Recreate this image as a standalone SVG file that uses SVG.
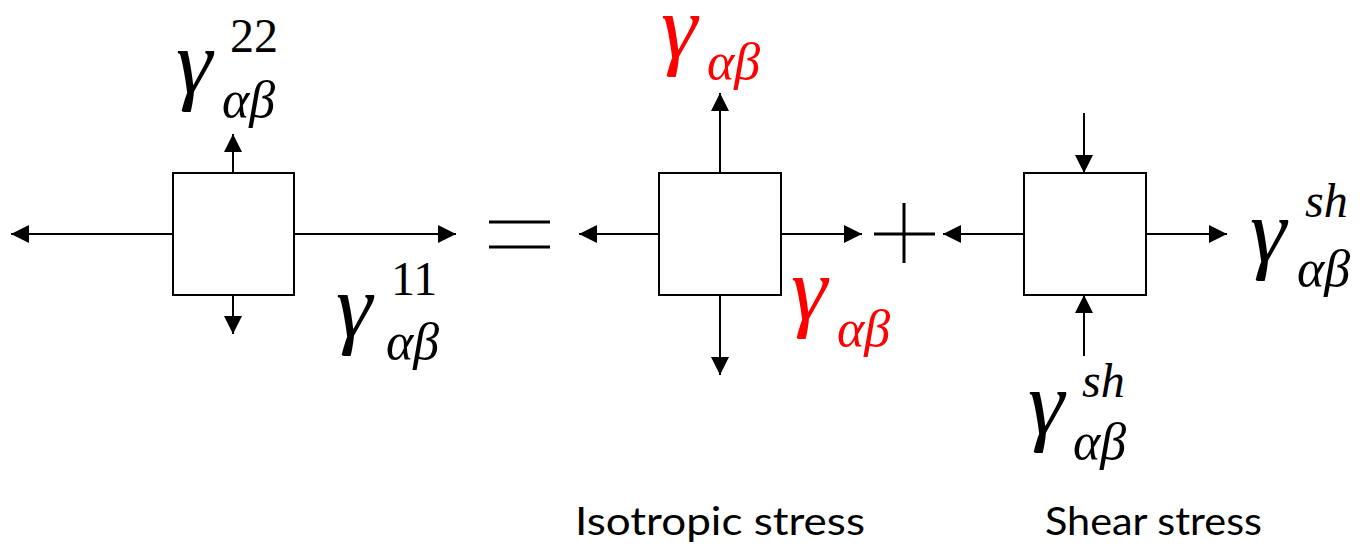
<svg xmlns="http://www.w3.org/2000/svg" width="1368" height="552" viewBox="0 0 1368 552">
<style>
.box{fill:#fff;stroke:#000;stroke-width:2}
.ln{stroke:#000;stroke-width:2;fill:none}
.op{stroke:#000;stroke-width:3;fill:none}
</style>
<defs>
<marker id="ah" markerUnits="userSpaceOnUse" markerWidth="18" markerHeight="18" viewBox="0 0 16 16" refX="16" refY="8" orient="auto">
<path d="M0,0 L16,8 L0,16 Z" fill="#000"/>
</marker>
</defs>
<g id="connectors">
<line class="ln" x1="173" y1="234" x2="11" y2="234" marker-end="url(#ah)"/>
<line class="ln" x1="294" y1="234" x2="456" y2="234" marker-end="url(#ah)"/>
<line class="ln" x1="233" y1="173" x2="233" y2="134" marker-end="url(#ah)"/>
<line class="ln" x1="233" y1="295" x2="233" y2="334" marker-end="url(#ah)"/>
<line class="ln" x1="659" y1="234" x2="579" y2="234" marker-end="url(#ah)"/>
<line class="ln" x1="781" y1="234" x2="862" y2="234" marker-end="url(#ah)"/>
<line class="ln" x1="720" y1="173" x2="720" y2="93" marker-end="url(#ah)"/>
<line class="ln" x1="720" y1="295" x2="720" y2="375" marker-end="url(#ah)"/>
<line class="ln" x1="1024" y1="234" x2="943" y2="234" marker-end="url(#ah)"/>
<line class="ln" x1="1146" y1="234" x2="1227" y2="234" marker-end="url(#ah)"/>
<line class="ln" x1="1084" y1="113" x2="1084" y2="173" marker-end="url(#ah)"/>
<line class="ln" x1="1084" y1="356" x2="1084" y2="295" marker-end="url(#ah)"/>
</g>
<g id="box-total"><rect class="box" x="173" y="173" width="121" height="122"/></g>
<g id="box-isotropic"><rect class="box" x="659" y="173" width="122" height="122"/></g>
<g id="box-shear"><rect class="box" x="1024" y="173" width="122" height="122"/></g>
<g id="equals"><line class="op" x1="489" y1="222" x2="550" y2="222"/><line class="op" x1="489" y1="247" x2="550" y2="247"/></g>
<g id="plus"><line class="op" x1="874" y1="234" x2="935" y2="234"/><line class="op" x1="904" y1="203" x2="904" y2="263"/></g>
<g font-family="serif" font-style="italic" fill="#000">
<g id="label-22">
<text font-size="92" x="176" y="93">γ<tspan font-size="48" font-style="normal" x="230" y="52">22</tspan><tspan font-size="52" x="222" y="117">αβ</tspan></text>
</g>
<g id="label-11">
<text font-size="92" x="336" y="337">γ<tspan font-size="48" font-style="normal" x="391" y="295">11</tspan><tspan font-size="52" x="386" y="359">αβ</tspan></text>
</g>
<g id="label-iso-top">
<text font-size="92" fill="#ff0000" x="661" y="58">γ<tspan font-size="52" x="707" y="79">αβ</tspan></text>
</g>
<g id="label-iso-right">
<text font-size="92" fill="#ff0000" x="791" y="320">γ<tspan font-size="52" x="837" y="346">αβ</tspan></text>
</g>
<g id="label-sh-right">
<text font-size="92" x="1250" y="262">γ<tspan font-size="48" x="1305" y="217">sh</tspan><tspan font-size="52" x="1297" y="286">αβ</tspan></text>
</g>
<g id="label-sh-bottom">
<text font-size="92" x="1028" y="434">γ<tspan font-size="48" x="1082" y="397">sh</tspan><tspan font-size="52" x="1073" y="459">αβ</tspan></text>
</g>
</g>
<g id="captions">
<text font-family="Lato" font-size="38" x="575" y="535" textLength="290" lengthAdjust="spacingAndGlyphs">Isotropic stress</text>
<text font-family="Lato" font-size="38" x="1045" y="535" textLength="217" lengthAdjust="spacingAndGlyphs">Shear stress</text>
</g>
</svg>
